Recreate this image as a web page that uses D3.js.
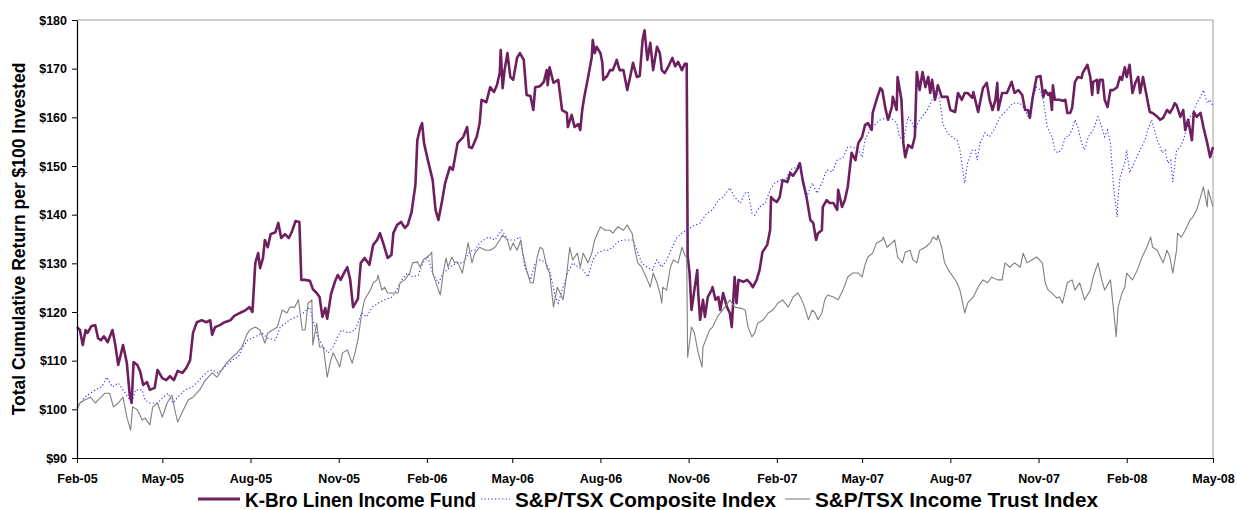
<!DOCTYPE html>
<html><head><meta charset="utf-8">
<script src="https://cdn.jsdelivr.net/npm/d3@7"></script>
<style>
html,body{margin:0;padding:0;background:#fff;}
svg{display:block;font-family:"Liberation Sans",Arial,sans-serif;}
</style></head>
<body>
<svg id="chart" width="1237" height="510"></svg>
<script>
// ---- data ----
const startDate = "2005-02-01";           // day 0
const endDate = "2008-05-01";
const tickLabels = ["Feb-05","May-05","Aug-05","Nov-05","Feb-06","May-06","Aug-06","Nov-06","Feb-07","May-07","Aug-07","Nov-07","Feb-08","May-08"];
const yTicks = [90,100,110,120,130,140,150,160,170,180];
const seriesNames = ["K-Bro Linen Income Fund","S&P/TSX Composite Index","S&P/TSX Income Trust Index"];

// K-Bro Linen Income Fund: days since start, value
const kbroDays = [0,3,6,9,11,15,19,22,25,28,32,37,40,43,45,48,52,55,57,59,63,66,69,73,76,81,84,89,93,97,101,105,110,114,118,121,125,130,135,139,141,144,149,154,160,164,168,172,176,180,183,186,189,191,194,196,199,202,207,210,213,217,221,224,228,232,234,238,243,246,250,253,256,259,261,265,269,272,275,279,282,285,288,293,296,300,305,309,313,316,320,324,328,330,334,338,342,345,349,353,355,358,360,362,366,371,374,377,381,384,389,392,397,403,407,409,412,417,420,422,427,431,435,438,441,442,444,446,449,452,455,459,462,466,469,473,476,478,483,487,490,491,493,497,502,506,511,512,516,519,523,525,527,529,533,537,538,540,542,546,548,549,553,556,559,563,566,570,574,577,580,584,587,590,592,595,598,601,605,608,610,613,616,621,624,627,631,634,636,637,639,641,644,647,648,650,653,655,658,662,663,666,669,671,674,678,681,683,684,686,688,690,695,699,702,705,709,712,715,720,723,724,727,730,733,736,741,744,747,751,754,757,761,765,768,771,773,777,778,782,785,789,793,794,798,801,804,808,812,815,819,822,825,829,830,834,838,840,843,846,850,851,855,856,860,862,864,867,871,874,876,879,882,885,888,890,892,895,898,902,908,911,916,919,923,926,929,934,935,940,945,949,952,955,958,960,961,965,970,975,978,982,986,989,992,994,997,1001,1005,1008,1010,1013,1015,1017,1018,1020,1025,1028,1031,1033,1036,1038,1041,1044,1048,1049,1054,1057,1059,1060,1064,1065,1067,1070,1072,1075,1078,1081,1085,1088,1090,1093,1095,1098,1101,1104,1107,1109,1112,1116,1119,1122,1127,1130,1133,1137,1140,1143,1145,1147,1151,1154,1156,1159,1163,1165,1168,1172,1175,1179,1182,1185];
const kbroValues = [116.9,116.3,113.2,116.3,115.7,117.1,117.3,114.6,114.2,115.0,113.8,116.3,113.2,109.1,110.7,113.2,109.5,102.9,101.3,109.7,109.1,107.7,105.0,105.6,104.0,104.4,108.1,106.4,106.0,106.8,106.0,107.9,107.5,108.5,110.1,115.7,117.9,118.3,117.9,118.3,115.3,116.9,117.3,117.9,118.3,119.2,119.6,120.0,120.4,121.0,120.0,130.1,132.1,129.0,131.1,134.8,133.3,136.0,136.4,138.3,135.2,136.0,135.2,136.4,138.7,138.5,126.6,126.6,126.4,124.7,123.9,123.1,119.0,120.8,118.6,123.7,126.2,127.6,126.6,128.2,129.2,126.6,121.0,122.7,130.1,131.1,129.7,133.8,134.8,136.2,133.8,131.1,131.7,136.2,137.9,138.5,137.3,137.9,140.5,146.1,155.3,157.8,158.8,154.7,151.2,147.1,141.0,138.9,143.0,146.5,149.8,149.2,154.7,156.0,158.0,153.9,153.7,156.0,158.8,163.6,163.1,166.2,165.2,166.6,169.1,173.8,166.0,169.7,173.2,168.3,167.7,172.2,173.2,171.8,164.6,164.4,161.5,166.2,166.4,167.3,169.7,166.6,170.3,167.1,167.7,161.5,160.9,158.0,160.5,158.0,158.6,157.4,161.5,164.0,168.1,172.4,175.9,173.2,174.5,173.2,171.2,167.7,168.5,169.7,169.7,171.8,169.7,169.7,165.6,168.3,171.2,168.3,168.5,175.9,177.9,171.8,175.3,169.7,174.5,173.2,169.7,169.1,170.1,172.2,170.5,171.4,169.7,171.0,171.0,131.5,128.0,120.4,124.5,128.6,123.9,118.4,122.5,119.0,123.1,124.5,125.1,122.5,123.1,120.4,123.9,121.0,119.8,116.9,120.4,127.2,121.8,126.6,126.2,126.6,126.0,125.1,126.6,128.6,132.3,133.8,136.8,143.6,143.0,142.6,143.6,147.1,146.7,148.6,148.0,149.2,150.6,147.1,143.6,138.9,138.3,134.8,136.2,136.8,141.6,143.0,142.4,142.4,141.0,145.1,141.6,143.0,145.7,152.7,151.2,154.7,156.0,158.4,158.8,157.4,160.9,163.6,166.0,165.6,162.1,159.5,162.1,164.2,161.5,168.3,163.6,154.7,151.8,154.3,153.7,156.0,169.3,165.6,169.3,166.2,168.3,165.0,167.7,163.6,166.6,164.2,164.2,161.5,161.1,165.0,163.6,165.0,165.0,164.0,165.2,161.1,166.0,167.1,163.6,161.5,163.6,167.1,161.5,165.0,165.0,167.3,165.0,165.6,164.6,161.5,161.5,159.9,164.2,168.3,168.5,164.2,165.6,164.6,165.0,161.5,166.6,163.6,163.6,163.4,163.6,160.9,160.9,161.9,167.3,168.3,168.1,169.1,170.8,168.3,164.6,167.3,167.7,165.0,167.7,167.7,163.6,162.1,165.6,165.6,166.2,168.3,167.7,170.3,168.3,170.8,165.0,167.1,168.3,165.0,168.3,164.2,161.1,160.9,160.1,159.5,159.9,161.5,160.9,161.9,162.9,162.5,160.1,161.5,157.4,159.5,155.3,161.1,160.1,160.9,158.0,154.7,151.8,153.9];

// S&P/TSX Composite Index
const compDays = [0,8,19,26,31,37,43,48,53,57,61,68,71,76,84,90,95,100,105,113,120,125,130,136,141,147,154,162,168,173,178,186,193,199,207,212,222,229,236,243,246,251,257,262,267,272,276,283,290,293,297,302,308,314,321,329,335,340,345,350,356,361,366,371,377,382,389,396,403,410,415,420,429,436,443,450,457,462,467,473,478,483,488,493,499,502,507,512,517,523,528,533,538,543,549,554,559,564,570,575,580,584,589,595,600,605,610,615,621,626,631,636,643,650,657,663,669,674,681,686,692,697,700,704,707,712,718,723,728,733,739,744,749,754,757,761,767,772,777,782,788,793,799,804,809,815,819,822,827,834,838,848,855,858,862,867,871,874,879,887,892,897,900,903,908,913,918,921,924,926,929,934,937,939,942,947,952,958,963,970,976,984,989,992,997,1001,1005,1008,1012,1017,1020,1023,1027,1031,1034,1038,1041,1044,1048,1051,1055,1060,1065,1069,1072,1075,1078,1080,1082,1085,1086,1088,1093,1095,1098,1104,1109,1114,1117,1121,1124,1127,1132,1135,1138,1141,1143,1147,1151,1154,1158,1161,1164,1168,1172,1175,1179,1182,1185];
const compValues = [100.3,102.5,104.0,104.6,106.6,104.6,105.4,104.0,102.5,101.3,104.0,104.0,101.9,101.3,101.3,102.5,103.3,101.3,102.5,104.0,104.6,105.4,106.6,107.7,108.1,107.5,108.7,110.1,110.7,112.8,114.2,114.9,115.7,114.6,114.2,116.9,118.4,119.0,119.8,121.0,118.4,114.9,112.8,111.6,112.8,114.9,116.3,115.7,116.3,117.7,119.8,119.0,121.0,121.8,122.5,123.1,125.1,127.0,128.0,127.2,127.6,130.1,131.3,128.0,126.0,128.0,129.2,130.1,130.1,132.5,132.7,134.2,135.4,134.8,136.8,134.8,134.8,135.4,129.2,126.6,130.1,130.7,130.3,128.6,123.1,121.8,125.1,128.0,130.1,129.2,128.6,127.2,130.7,132.1,132.7,132.7,133.3,134.4,134.8,134.8,134.8,132.7,130.1,129.2,128.6,130.7,129.2,130.7,133.3,135.4,136.2,136.8,137.7,138.3,140.3,141.0,143.0,143.6,145.5,143.6,142.4,144.4,144.7,140.3,139.9,141.6,142.4,145.1,146.5,147.1,147.1,149.2,149.6,150.6,146.5,143.6,146.5,144.4,146.5,149.2,148.8,151.2,151.8,153.9,153.9,153.3,151.8,155.3,157.4,158.8,159.5,160.1,158.8,156.0,155.3,160.1,159.0,157.4,159.5,161.5,163.6,165.0,163.6,158.8,156.8,156.0,155.3,153.3,149.2,146.5,150.6,153.3,153.3,151.2,154.7,156.8,156.0,158.0,160.1,161.5,162.9,162.9,161.5,160.1,164.2,166.2,165.6,163.6,158.0,156.0,153.3,152.7,153.3,156.0,156.0,157.4,159.5,158.0,154.7,153.3,156.0,157.4,160.1,158.0,156.0,157.4,154.7,149.2,144.4,139.5,143.6,147.7,150.6,153.3,148.6,151.2,153.3,155.3,157.4,159.5,157.4,155.3,152.7,153.3,150.6,151.2,146.7,153.3,153.9,155.3,158.0,160.1,160.9,162.9,164.2,165.6,162.9,163.6,162.1];

// S&P/TSX Income Trust Index
const trustDays = [0,3,8,14,19,24,29,34,38,43,48,52,56,58,63,68,71,76,79,84,89,94,99,102,105,111,116,121,128,134,141,146,151,156,162,167,172,177,180,186,191,196,199,204,209,214,219,222,227,231,235,238,241,245,246,250,253,257,261,264,267,271,274,277,282,287,290,293,297,300,306,309,313,314,318,321,324,330,335,337,342,347,350,355,358,361,365,368,370,371,376,379,382,385,387,391,394,397,402,405,408,412,415,420,426,431,436,441,444,449,452,455,459,463,465,469,473,476,480,483,486,490,493,497,501,504,507,511,514,517,522,525,528,533,537,540,546,551,556,559,564,570,574,579,582,585,589,595,598,601,605,608,610,611,615,619,622,627,631,634,636,637,641,644,648,652,653,657,660,663,668,671,676,681,686,692,697,700,704,707,710,716,721,726,731,736,742,747,752,756,759,763,767,770,773,777,780,783,789,794,799,804,809,815,819,822,825,830,834,840,841,845,850,853,856,861,864,869,872,876,879,885,890,893,897,898,902,905,909,914,918,921,924,926,929,935,940,945,950,954,960,965,968,973,978,984,987,991,996,1001,1007,1010,1013,1017,1022,1025,1028,1033,1038,1041,1046,1051,1057,1060,1065,1069,1072,1078,1081,1084,1086,1090,1093,1095,1101,1106,1111,1116,1120,1122,1127,1130,1133,1137,1140,1143,1147,1148,1152,1156,1161,1164,1168,1172,1175,1179,1180,1185];
const trustValues = [99.9,101.3,101.9,102.5,101.3,102.3,103.3,103.3,100.5,101.3,102.5,98.4,95.7,100.5,99.9,97.8,98.2,96.8,100.5,101.3,98.4,101.3,102.9,99.9,97.4,99.9,101.9,102.5,104.0,106.0,107.5,106.6,108.1,109.5,110.7,111.6,112.8,115.3,116.3,116.9,116.3,113.6,115.7,116.3,116.9,120.4,119.8,121.0,121.0,122.5,116.3,116.3,121.8,122.5,113.2,117.7,112.8,112.8,106.6,109.5,111.6,110.1,108.7,111.6,112.2,109.5,111.6,114.2,119.8,122.5,124.5,126.0,126.6,127.6,124.5,125.1,123.9,123.9,123.9,126.0,126.6,128.0,130.1,130.3,129.2,130.7,131.3,131.7,132.3,128.0,125.1,123.5,128.0,131.1,129.2,131.3,130.1,130.3,128.0,131.1,134.2,130.1,132.1,133.3,132.7,132.7,133.3,134.8,135.8,134.8,132.7,134.2,132.7,134.8,132.1,128.6,126.0,126.0,131.3,133.3,132.9,129.2,128.0,121.0,125.1,123.9,122.5,128.0,133.3,130.7,132.1,129.2,132.1,130.1,132.1,134.8,137.5,136.8,136.8,136.2,137.5,136.8,137.9,136.2,132.7,130.1,129.2,126.6,125.1,128.0,126.0,123.9,121.8,125.1,124.5,129.2,130.7,130.1,133.3,131.7,131.1,110.7,116.9,115.7,111.6,108.7,112.8,114.9,116.3,116.9,119.0,119.8,121.0,122.5,121.0,120.8,120.4,116.9,114.9,115.7,117.7,118.4,119.8,120.4,121.8,122.5,121.0,123.1,123.9,122.5,121.0,118.4,120.4,119.8,118.4,119.8,122.5,123.5,123.1,122.5,124.5,127.2,128.0,128.0,127.2,129.7,131.3,132.1,134.2,134.8,135.4,133.3,134.2,134.8,131.3,130.1,132.3,132.7,130.7,130.1,132.7,133.3,134.2,135.4,134.8,135.8,133.3,130.1,128.6,127.2,126.0,124.5,121.8,119.8,121.8,123.1,125.1,126.6,126.0,127.2,126.6,126.6,130.1,129.2,130.1,129.2,132.1,130.1,130.7,131.3,130.1,126.0,124.5,123.9,122.9,123.1,121.8,126.0,126.6,124.5,126.0,122.5,124.5,127.2,130.1,126.6,124.5,126.6,121.0,114.9,121.0,123.9,125.1,128.0,126.6,128.6,131.3,133.3,135.4,133.3,132.7,131.3,130.1,132.7,131.3,128.0,132.7,136.2,135.4,136.8,138.9,139.5,141.0,143.6,145.7,141.6,145.1,141.6];

// ---- chart ----
const svg = d3.select("#chart");
const margin = {left: 77, right: 1213, top: 20, bottom: 458};
const parseISO = d3.timeParse("%Y-%m-%d");
const parseTick = d3.timeParse("%b-%y");
const t0 = parseISO(startDate);

const x = d3.scaleTime().domain([t0, parseISO(endDate)]).range([margin.left, margin.right]);
const y = d3.scaleLinear().domain([90, 180]).range([margin.bottom, margin.top]);

function toPoints(days, vals){ return days.map((d,i)=>({date: d3.timeDay.offset(t0, d), v: vals[i]})); }
const kbro = toPoints(kbroDays, kbroValues);
const comp = toPoints(compDays, compValues);
const trust = toPoints(trustDays, trustValues);

const line = d3.line().x(d=>x(d.date)).y(d=>y(d.v));

// plot frame (top and right grey)
svg.append("line").attr("x1", margin.left).attr("x2", margin.right).attr("y1", margin.top).attr("y2", margin.top)
  .attr("stroke", "#a0a0a0").attr("stroke-width", 1);
svg.append("line").attr("x1", margin.right).attr("x2", margin.right).attr("y1", margin.top).attr("y2", margin.bottom)
  .attr("stroke", "#a0a0a0").attr("stroke-width", 1);

// series
svg.append("path").datum(kbro).attr("d", line).attr("fill","none")
  .attr("stroke","#6e1f5e").attr("stroke-width",2.6).attr("stroke-linejoin","round");
svg.append("path").datum(comp).attr("d", line).attr("fill","none")
  .attr("stroke","#2a2aff").attr("stroke-width",1.1).attr("stroke-dasharray","1.2,2.3");
svg.append("path").datum(trust).attr("d", line).attr("fill","none")
  .attr("stroke","#808080").attr("stroke-width",1.1).attr("stroke-linejoin","round");

// axes
const yAxis = d3.axisLeft(y).tickValues(yTicks).tickFormat(d=>"$"+d).tickSize(5).tickSizeOuter(0).tickPadding(5);
const gy = svg.append("g").attr("transform", `translate(${margin.left},0)`).call(yAxis);
const tickDates = tickLabels.map(s=>parseTick(s));
const xAxis = d3.axisBottom(x).tickValues(tickDates).tickFormat((d,i)=>tickLabels[i]).tickSize(5).tickSizeOuter(0).tickPadding(11);
const gx = svg.append("g").attr("transform", `translate(0,${margin.bottom})`).call(xAxis);
[gx, gy].forEach(g=>{
  g.selectAll("path.domain").attr("stroke","#000").attr("stroke-width",1.2);
  g.selectAll(".tick line").attr("stroke","#000");
  g.selectAll(".tick text").attr("fill","#000").attr("font-size","12.5px").attr("font-weight","bold")
    .attr("font-family","'Liberation Sans',Arial,sans-serif");
});

// y axis title
svg.append("text").attr("transform", `translate(25,${(margin.top+margin.bottom)/2}) rotate(-90)`)
  .attr("text-anchor","middle").attr("font-size","17.5px").attr("font-weight","bold").attr("fill","#000")
  .text("Total Cumulative Return per $100 Invested");

// legend
const legendX = [198, 481, 785];
const legendTextW = [231, 261, 283];
const legendStyles = [
  {stroke:"#6e1f5e", w:3, dash:null, len:42},
  {stroke:"#2a2aff", w:1.1, dash:"1.2,2.3", len:29},
  {stroke:"#808080", w:1.1, dash:null, len:25}
];
const lg = svg.append("g");
seriesNames.forEach((name,i)=>{
  const st = legendStyles[i];
  lg.append("line").attr("x1", legendX[i]).attr("x2", legendX[i]+st.len).attr("y1", 499).attr("y2", 499)
    .attr("stroke", st.stroke).attr("stroke-width", st.w).attr("stroke-dasharray", st.dash);
  lg.append("text").attr("x", legendX[i]+st.len+5).attr("y", 507).attr("font-size","20px").attr("font-weight","bold")
    .attr("textLength", legendTextW[i]).attr("lengthAdjust","spacingAndGlyphs")
    .attr("fill","#000").text(name);
});
</script>
</body></html>
